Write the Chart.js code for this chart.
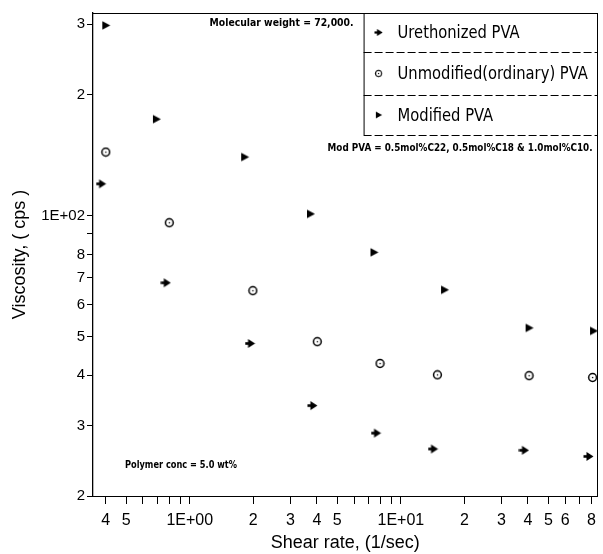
<!DOCTYPE html>
<html>
<head>
<meta charset="utf-8">
<script src="https://cdn.jsdelivr.net/npm/chart.js@4/dist/chart.umd.min.js"></script>
<style>
  html, body { margin: 0; padding: 0; background: #fff; }
  canvas { display: block; }
</style>
</head>
<body>
<canvas id="chart" width="603" height="554"></canvas>
<script>
// series (log-log, shear rate in 1/sec, viscosity in cps)
const seriesNames = ['Urethonized PVA', 'Unmodified(ordinary) PVA', 'Modified PVA'];

const urethShear = [0.38, 0.77, 1.93, 3.81, 7.63, 14.2, 38.3, 77.4];
const urethVisc  = [120, 68, 48, 33.6, 28.7, 26.2, 26.0, 25.1];

const unmodShear = [0.40, 0.80, 1.99, 4.02, 7.97, 14.9, 40.5, 81.0];
const unmodVisc  = [144, 96, 65, 48.5, 42.8, 40.1, 39.9, 39.5];

const modShear = [0.40, 0.695, 1.82, 3.73, 7.46, 16.1, 40.5, 81.8];
const modVisc  = [298, 174, 140, 101, 81, 65.3, 52.5, 51.6];

const xTickValues = [0.4, 0.5, 0.6, 0.7, 0.8, 0.9, 1, 2, 3, 4, 5, 6, 7, 8, 9, 10, 20, 30, 40, 50, 60, 70, 80];
const xTickLabels = ['4', '5', '', '', '', '', '1E+00', '2', '3', '4', '5', '', '', '', '', '1E+01', '2', '3', '4', '5', '6', '', '8'];
const yTickValues = [20, 30, 40, 50, 60, 70, 80, 90, 100, 200, 300];
const yTickLabels = ['2', '3', '4', '5', '6', '7', '8', '', '1E+02', '2', '3'];

const noteTexts = [
  'Molecular weight = 72,000.',
  'Mod PVA = 0.5mol%C22, 0.5mol%C18 & 1.0mol%C10.',
  'Polymer conc = 5.0 wt%'
];

const narrow = '"Liberation Sans Narrow", "DejaVu Sans Condensed", "Arial Narrow", sans-serif';

function makeMarker(kind) {
  const c = document.createElement('canvas');
  c.width = 11; c.height = 11;
  const g = c.getContext('2d');
  g.fillStyle = '#000'; g.strokeStyle = '#000';
  if (kind === 'arrow') {
    g.fillRect(0.5, 4.2, 5, 2.6);
    g.beginPath(); g.moveTo(3.5, 1); g.lineTo(10.5, 5.5); g.lineTo(3.5, 10); g.closePath(); g.fill();
  } else if (kind === 'ring') {
    g.lineWidth = 1.5;
    g.beginPath(); g.arc(5.5, 5.5, 3.9, 0, Math.PI * 2); g.stroke();
    g.fillRect(4.9, 4.9, 1.3, 1.3);
  } else {
    g.beginPath(); g.moveTo(2, 1.2); g.lineTo(10, 5.5); g.lineTo(2, 9.8); g.closePath(); g.fill();
  }
  return c;
}

const toPoints = (xs, ys) => xs.map((x, i) => ({ x: x, y: ys[i] }));

// squeeze text horizontally so it reads like the narrow plotter lettering
function squeezedText(ctx, text, x, y, sx) {
  ctx.save();
  ctx.translate(x, y);
  ctx.scale(sx, 1);
  ctx.fillText(text, 0, 0);
  ctx.restore();
}

function fitText(ctx, text, x, y, width) {
  squeezedText(ctx, text, x, y, width / ctx.measureText(text).width);
}

const whiteBg = {
  id: 'whiteBg',
  beforeDraw(chart) {
    const { ctx, width, height } = chart;
    ctx.save();
    ctx.fillStyle = '#fff';
    ctx.fillRect(0, 0, width, height);
    ctx.restore();
  }
};

// boxed legend with dashed row dividers + the free text notes
const legendBox = {
  id: 'legendBox',
  afterDraw(chart) {
    const { ctx, chartArea } = chart;
    const left = chartArea.right - 234, top = chartArea.top;
    const rows = [0, 39, 82, 122];
    ctx.save();
    ctx.strokeStyle = '#000';
    ctx.lineWidth = 1;
    ctx.beginPath();
    ctx.moveTo(left + 0.5, top); ctx.lineTo(left + 0.5, top + rows[3]);
    ctx.stroke();
    ctx.setLineDash([8, 3]);
    for (let k = 1; k < rows.length; k++) {
      ctx.beginPath();
      ctx.moveTo(left, top + rows[k] + 0.5); ctx.lineTo(chartArea.right, top + rows[k] + 0.5);
      ctx.stroke();
    }
    ctx.setLineDash([]);
    ctx.fillStyle = '#000';
    ctx.font = '18px ' + narrow;
    ctx.textBaseline = 'middle';
    ctx.textAlign = 'left';
    chart.data.datasets.forEach((ds, k) => {
      const cy = top + (rows[k] + rows[k + 1]) / 2;
      const m = ds.pointStyle;
      const w = m.width * 0.8, h = m.height * 0.8;
      ctx.drawImage(m, left + 15 - w / 2, cy - h / 2, w, h);
      squeezedText(ctx, ds.label, left + 34, cy + 1, 0.91);
    });

    ctx.font = 'bold 11px ' + narrow;
    ctx.textAlign = 'right';
    fitText(ctx, noteTexts[0], left - 10, top + 10, 144);
    fitText(ctx, noteTexts[1], chartArea.right - 5, top + 135, 265);
    ctx.textAlign = 'left';
    fitText(ctx, noteTexts[2], chartArea.left + 32, chartArea.bottom - 31, 112);
    ctx.restore();
  }
};

const markers = [makeMarker('arrow'), makeMarker('ring'), makeMarker('tri')];

new Chart(document.getElementById('chart'), {
  type: 'scatter',
  data: {
    datasets: [
      { label: seriesNames[0], data: toPoints(urethShear, urethVisc), pointStyle: markers[0] },
      { label: seriesNames[1], data: toPoints(unmodShear, unmodVisc), pointStyle: markers[1] },
      { label: seriesNames[2], data: toPoints(modShear, modVisc), pointStyle: markers[2] }
    ]
  },
  options: {
    responsive: false,
    animation: false,
    layout: { padding: 0 },
    plugins: { legend: { display: false }, tooltip: { enabled: false } },
    scales: {
      x: {
        type: 'logarithmic',
        position: 'bottom',
        bounds: 'data',
        min: 0.348,
        max: 85.5,
        afterBuildTicks: s => { s.ticks = xTickValues.map(v => ({ value: v })); },
        afterFit: s => { s.height = 58; },
        ticks: {
          autoSkip: false, maxRotation: 0, minRotation: 0, padding: 7,
          color: '#000', font: { size: 16 },
          callback: (v, i) => xTickLabels[i]
        },
        grid: { drawOnChartArea: false, drawTicks: true, tickLength: 8, color: '#000', lineWidth: 1 },
        border: { display: true, color: '#000', width: 1, dash: [9, 3] },
        title: {
          display: true, text: 'Shear rate, (1/sec)', color: '#000',
          font: { size: 18 }, padding: { top: 0, bottom: 0 }
        }
      },
      x2: {
        type: 'linear',
        position: 'top',
        min: 0, max: 1,
        afterFit: s => { s.height = 13; },
        ticks: { display: false },
        grid: { display: false, drawTicks: false },
        border: { display: true, color: '#000', width: 1, dash: [9, 3] }
      },
      y: {
        type: 'logarithmic',
        position: 'left',
        bounds: 'data',
        min: 20,
        max: 320,
        afterBuildTicks: s => { s.ticks = yTickValues.map(v => ({ value: v })); },
        afterFit: s => { s.width = 93; },
        ticks: {
          autoSkip: false, padding: 2, color: '#000', font: { size: 15 },
          callback: (v, i) => yTickLabels[i]
        },
        grid: { drawOnChartArea: false, drawTicks: true, tickLength: 6, color: '#000', lineWidth: 1 },
        border: { display: true, color: '#000', width: 1.3 },
        title: {
          display: true, text: 'Viscosity, ( cps )', color: '#000',
          font: { size: 18 }, padding: { top: 9, bottom: 0 }
        }
      },
      y2: {
        type: 'linear',
        position: 'right',
        min: 0, max: 1,
        afterFit: s => { s.width = 2; },
        ticks: { display: false },
        grid: { display: false, drawTicks: false },
        border: { display: true, color: '#000', width: 1, dash: [9, 3] }
      }
    }
  },
  plugins: [whiteBg, legendBox]
});
</script>
</body>
</html>
